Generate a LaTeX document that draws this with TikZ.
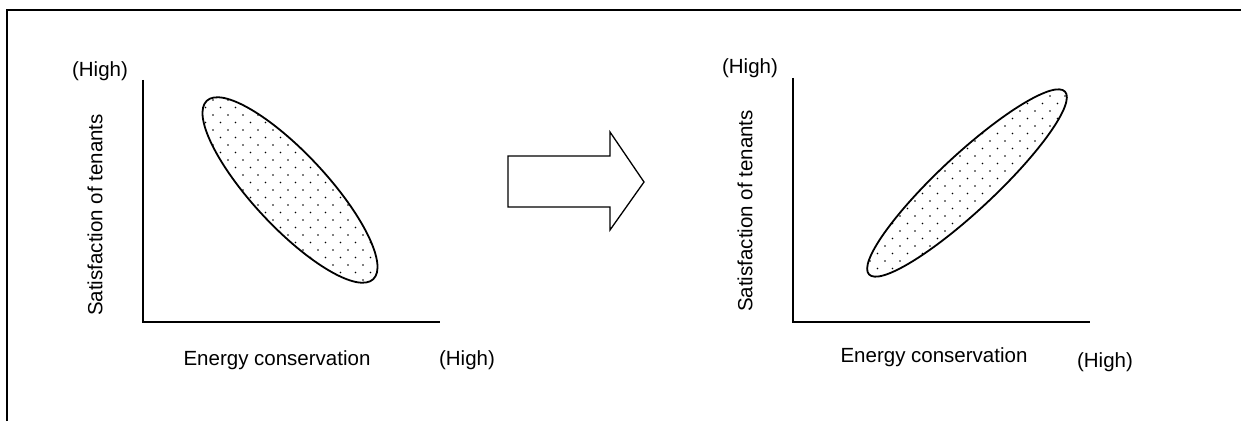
\documentclass[tikz,border=0pt]{standalone}
\usepackage{fontspec}
\setmainfont{Liberation Sans}
\usetikzlibrary{positioning,calc}

\begin{document}
\begin{tikzpicture}[x=1pt, y=1pt]

\tikzstyle{lbl} = [font = \fontsize{20.5pt}{20.5pt}\selectfont, inner sep = 0pt]
\tikzstyle{axis} = [line width = 1.3pt]
\tikzstyle{blob} = [line width = 1.8pt]

\useasboundingbox (0,0) rectangle (1241,421);

% frame
\coordinate (frame_bl) at (7,0);
\coordinate (frame_tl) at (7,411);
\coordinate (frame_tr) at (1241,411);
\draw[line width = 1.8pt] (frame_bl) -- (frame_tl) -- (frame_tr);

% left chart
\coordinate (l_top) at (143,341);
\coordinate (l_origin) at (143,99);
\coordinate (l_right) at (440,99);
\draw[axis] (l_top) -- (l_origin) -- (l_right);

\node [lbl] (l_high_y) at (100,350) {(High)};
\node [lbl, rotate = 90] (l_ylabel) at (95,206) {Satisfaction of tenants};
\node [lbl] (l_xlabel) at (277,61) {Energy conservation};
\node [lbl] (l_high_x) at (467,61) {(High)};

\begin{scope}
\clip (290,231) ellipse [x radius = 122, y radius = 37, rotate = -47];
\foreach \r in {0,...,28} {
  \foreach \c in {0,...,13} {
    \pgfmathsetmacro{\dx}{183 + 15*\c + 7.5*mod(\r,2)}
    \pgfmathsetmacro{\dy}{126 + 7.5*\r}
    \fill (\dx,\dy) circle (0.9);
  }
}
\end{scope}
\draw[blob] (290,231) ellipse [x radius = 122, y radius = 37, rotate = -47];

% arrow
\draw[line width = 1.3pt] (508,265) -- (610,265) -- (610,289) -- (644,239) -- (610,191) -- (610,214) -- (508,214) -- cycle;

% right chart
\coordinate (r_top) at (793,343);
\coordinate (r_origin) at (793,99);
\coordinate (r_right) at (1090,99);
\draw[axis] (r_top) -- (r_origin) -- (r_right);

\node [lbl] (r_high_y) at (750,353) {(High)};
\node [lbl, rotate = 90] (r_ylabel) at (745,210) {Satisfaction of tenants};
\node [lbl] (r_xlabel) at (934,64) {Energy conservation};
\node [lbl] (r_high_x) at (1105,59) {(High)};

\begin{scope}
\clip (967,238) ellipse [x radius = 134, y radius = 28, rotate = 43];
\foreach \r in {0,...,29} {
  \foreach \c in {0,...,15} {
    \pgfmathsetmacro{\dx}{855 + 15*\c + 7.5*mod(\r,2)}
    \pgfmathsetmacro{\dy}{130 + 7.5*\r}
    \fill (\dx,\dy) circle (0.9);
  }
}
\end{scope}
\draw[blob] (967,238) ellipse [x radius = 134, y radius = 28, rotate = 43];

\end{tikzpicture}
\end{document}
